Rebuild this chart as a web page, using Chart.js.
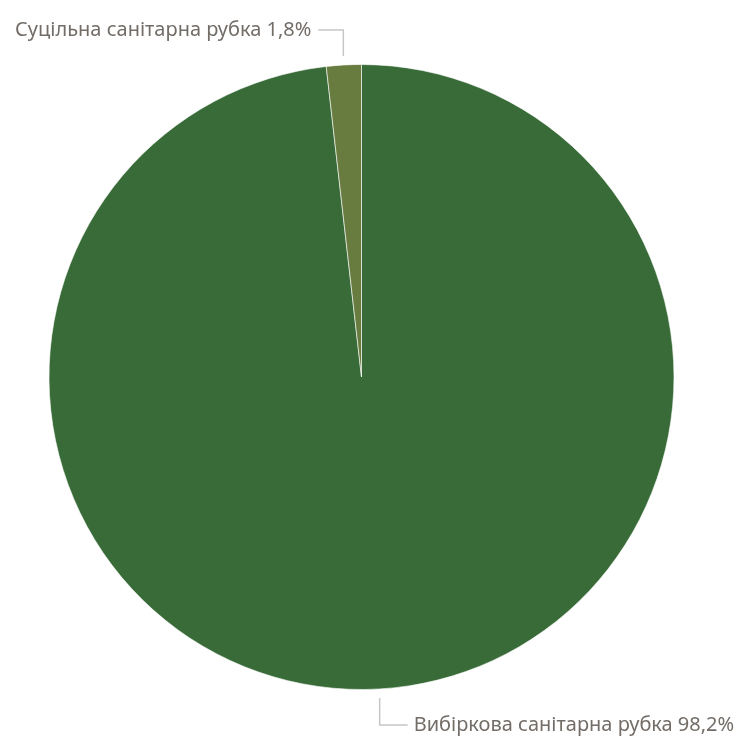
<!DOCTYPE html>
<html>
<head>
<meta charset="utf-8">
<script src="https://cdn.jsdelivr.net/npm/chart.js@4.4.1/dist/chart.umd.min.js"></script>
<style>
  html, body { margin: 0; padding: 0; background: #fff; }
  #wrap { width: 740px; height: 740px; }
</style>
</head>
<body>
<div id="wrap"><canvas id="chart" width="740" height="740"></canvas></div>
<script>
"use strict";
const labels = ["Вибіркова санітарна рубка", "Суцільна санітарна рубка"];
const shares = [98.2, 1.8];
const colors = ["#386b38", "#687c40"];

const FONT = '20px "Noto Sans", "DejaVu Sans", sans-serif';
const TEXT_COLOR = "#736d68";
const LINE_COLOR = "#c8c6c4";

// leader lines + labels, drawn from the arc geometry
const leaderLabels = {
    id: "leaderLabels",
    afterDatasetsDraw(chart) {
        const ctx = chart.ctx;
        const meta = chart.getDatasetMeta(0);
        ctx.save();
        ctx.font = FONT;
        ctx.textBaseline = "middle";
        meta.data.forEach((arc, i) => {
            const mid = (arc.startAngle + arc.endAngle) / 2;
            const r = arc.outerRadius;
            const x0 = arc.x + Math.cos(mid) * (r + 9);
            const y0 = arc.y + Math.sin(mid) * (r + 9);
            const up = Math.sin(mid) < 0;
            const y1 = up ? y0 - 26 : y0 + 27;
            const left = Math.cos(mid) < 0;
            const x1 = left ? x0 - 25 : x0 + 28;
            ctx.strokeStyle = LINE_COLOR;
            ctx.lineWidth = 1.5;
            ctx.beginPath();
            ctx.moveTo(x0, y0);
            ctx.lineTo(x0, y1);
            ctx.lineTo(x1, y1);
            ctx.stroke();
            const text = labels[i] + " " + shares[i].toFixed(1).replace(".", ",") + "%";
            ctx.fillStyle = TEXT_COLOR;
            ctx.textAlign = left ? "right" : "left";
            ctx.fillText(text, left ? x1 - 7 : x1 + 6, y1);
        });
        ctx.restore();
    }
};

new Chart(document.getElementById("chart"), {
    type: "pie",
    data: {
        labels: labels,
        datasets: [{
            data: shares,
            backgroundColor: colors,
            borderColor: "rgba(255,255,255,0.6)",
            borderWidth: 1,
        }],
    },
    options: {
        responsive: false,
        animation: false,
        layout: { padding: { top: 64, bottom: 50, left: 48, right: 65 } },
        plugins: {
            legend: { display: false },
            tooltip: { enabled: false },
        },
    },
    plugins: [leaderLabels],
});
</script>
</body>
</html>
